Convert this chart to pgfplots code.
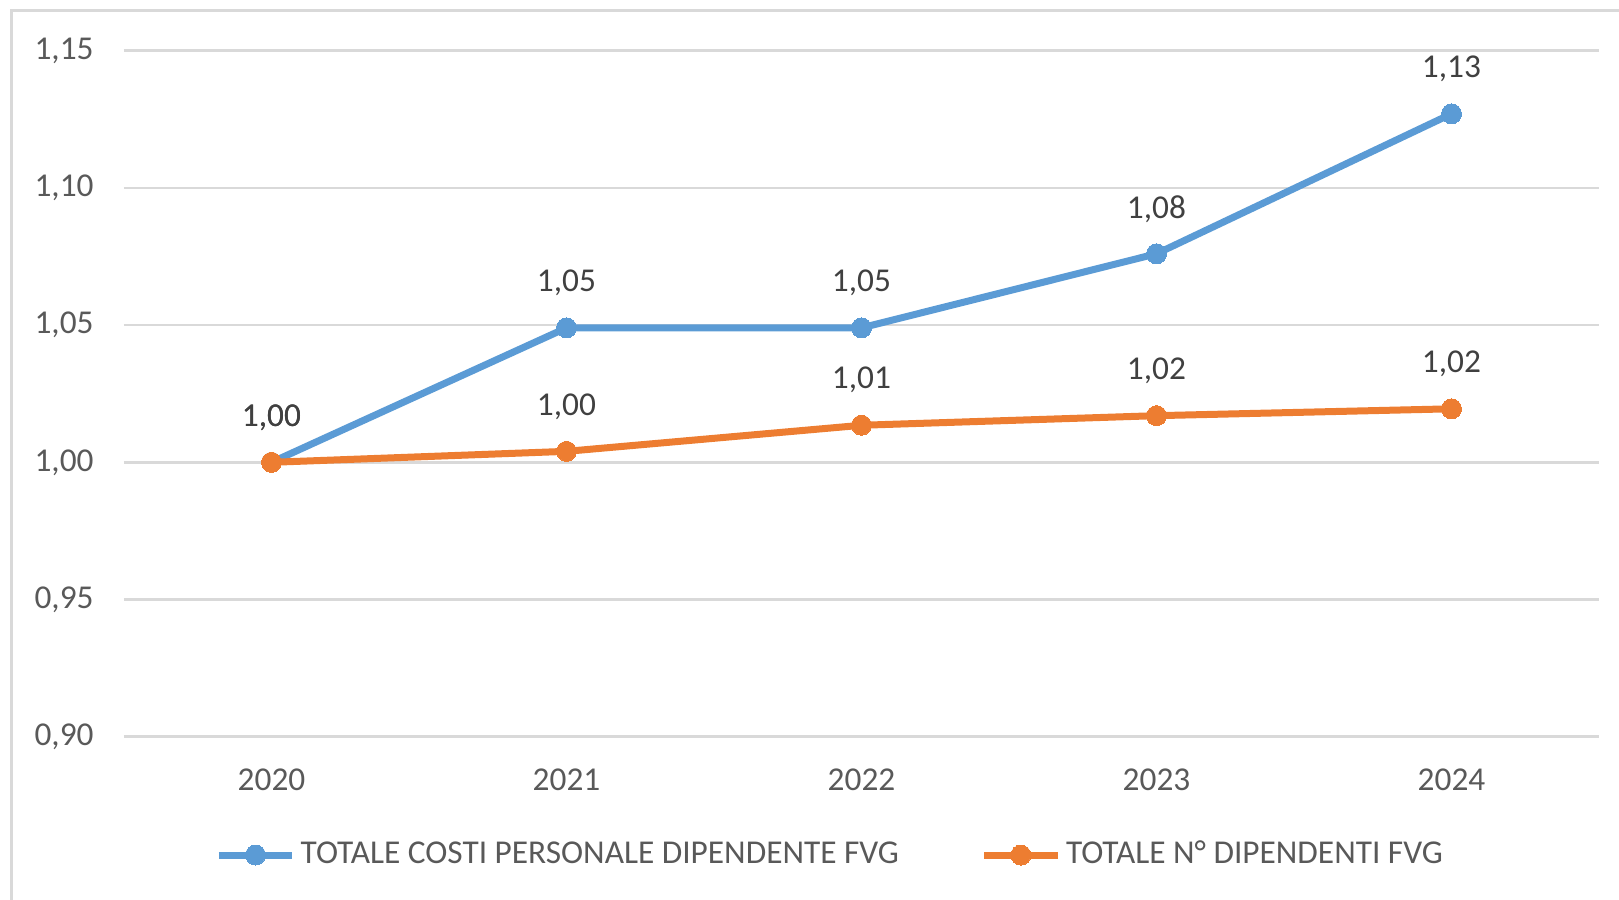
\documentclass[border=0pt]{standalone}
\usepackage{fontspec}
\setmainfont{Carlito}
\usepackage{pgfplots}
\pgfplotsset{compat=1.18}
\definecolor{cblue}{HTML}{5B9BD5}
\definecolor{corange}{HTML}{ED7D31}
\definecolor{tgray}{HTML}{595959}
\definecolor{lgray}{HTML}{404040}
\definecolor{gridc}{HTML}{D9D9D9}
\begin{document}
\begin{tikzpicture}[x=0.3pt,y=0.3pt]
\clip (0,0) rectangle (1619,899);
\draw[gridc, line width=0.9pt] (11,-30) rectangle (1650,889);
\begin{axis}[
  at={(37.2pt,48.69pt)}, anchor=south west,
  scale only axis, width=442.5pt, height=205.8pt,
  xmin=-0.5, xmax=4.5, ymin=0.9, ymax=1.15,
  xtick={0,1,2,3,4}, xticklabels={2020,2021,2022,2023,2024},
  ytick={0.9,0.95,1.0,1.05,1.1,1.15},
  axis line style={draw=none}, tick style={draw=none},
  ymajorgrids, major grid style={gridc, line width=0.75pt},
  clip=false,
  /pgf/number format/.cd, use comma, fixed, fixed zerofill, precision=2, assume math mode=true,
  /pgfplots/.cd,
  ticklabel style={font=\fontsize{10}{12}\selectfont, text=tgray},
  xticklabel style={anchor=center, yshift=-12.9pt},
  yticklabel style={anchor=east, xshift=-5.6pt},
  nodes near coords={\pgfmathprintnumber[fixed,fixed zerofill,precision=2,use comma,assume math mode=true]{\pgfplotspointmeta}},
  nodes near coords style={anchor=center, yshift=13.5pt, font=\fontsize{10}{12}\selectfont, text=lgray},
  legend style={draw=none, fill=none, at={(0.0615,-0.1725)}, anchor=west, inner sep=0pt,
    nodes={inner sep=1.5pt},
    font=\fontsize{10}{12}\selectfont, text=tgray,
    /tikz/every even column/.append style={column sep=23pt}},
  legend columns=2,
  legend cell align=left,
  legend image code/.code={\draw[mark repeat=2,mark phase=2,#1] plot coordinates {(0pt,0pt) (11pt,0pt) (22pt,0pt)};},
]
\addplot[cblue, line width=2.1pt, mark=*, mark size=3pt, mark options={fill=cblue, draw=cblue, line width=0pt}]
  coordinates {(0,1.000) (1,1.049) (2,1.049) (3,1.076) (4,1.127)};
\addlegendentry{TOTALE COSTI PERSONALE DIPENDENTE FVG}
\addplot[corange, line width=2.1pt, mark=*, mark size=3pt, mark options={fill=corange, draw=corange, line width=0pt}]
  coordinates {(0,1.000) (1,1.004) (2,1.0135) (3,1.017) (4,1.0195)};
\addlegendentry{TOTALE N° DIPENDENTI FVG}
\end{axis}
\end{tikzpicture}
\end{document}
